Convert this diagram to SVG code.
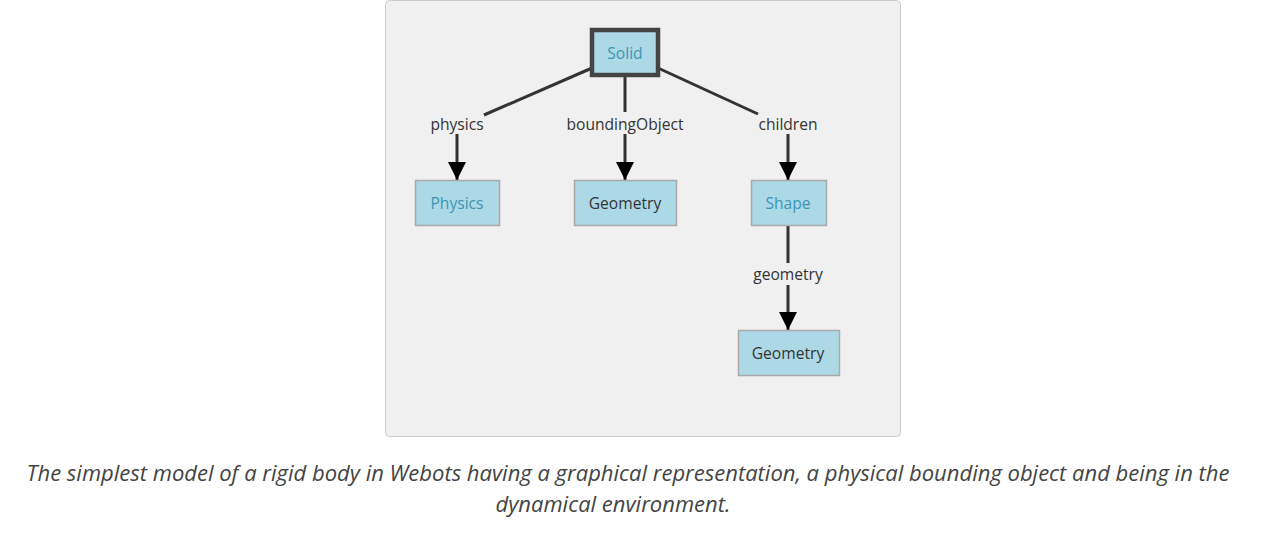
<svg xmlns="http://www.w3.org/2000/svg" width="1284" height="536" viewBox="0 0 1284 536">
<style>
.node rect{fill:#add8e6;stroke:#a9a9a9;stroke-width:1.5}
.nt{font-family:"Open Sans","Liberation Sans",sans-serif;font-size:15.6px;text-anchor:middle;fill:#333}
.link{fill:#3a97b3}
.lbl{font-family:"Open Sans","Liberation Sans",sans-serif;font-size:15.6px;text-anchor:middle;fill:#333}
.edge{stroke:#333;stroke-width:3;fill:none}
.cap{font-family:"Open Sans","Liberation Sans",sans-serif;font-size:22px;font-style:italic;text-anchor:middle;fill:#444}
</style>
<defs>
<marker id="arr" markerWidth="6" markerHeight="6" refX="6" refY="3" orient="auto" markerUnits="strokeWidth">
<path d="M0,0 L6,3 L0,6 z" fill="#000"/>
</marker>
</defs>
<rect x="385.5" y="0.5" width="515" height="436" rx="4" fill="#f0f0f0" stroke="#cccccc"/>
<g id="connectors">
<path class="edge" d="M592,68 L484,115"/>
<path class="edge" d="M457,134 L457,180" marker-end="url(#arr)"/>
<path class="edge" d="M625,77 L625,112"/>
<path class="edge" d="M625,134 L625,180" marker-end="url(#arr)"/>
<path class="edge" d="M658,68 L758,114"/>
<path class="edge" d="M788,134 L788,180" marker-end="url(#arr)"/>
<path class="edge" d="M788,226 L788,263"/>
<path class="edge" d="M788,285 L788,330" marker-end="url(#arr)"/>
<text class="lbl" x="457" y="130">physics</text>
<text class="lbl" x="625" y="130">boundingObject</text>
<text class="lbl" x="788" y="130">children</text>
<text class="lbl" x="788" y="280">geometry</text>
</g>
<g id="solid" class="node">
<rect x="592" y="30" width="66" height="45" style="stroke:#444;stroke-width:4.5"/>
<text class="nt link" x="625" y="59">Solid</text>
</g>
<g id="physics" class="node">
<rect x="415.5" y="180.5" width="84" height="45"/>
<text class="nt link" x="457" y="209">Physics</text>
</g>
<g id="geometry1" class="node">
<rect x="574.5" y="180.5" width="102" height="45"/>
<text class="nt" x="625" y="209">Geometry</text>
</g>
<g id="shape" class="node">
<rect x="751.5" y="180.5" width="75" height="45"/>
<text class="nt link" x="788" y="209">Shape</text>
</g>
<g id="geometry2" class="node">
<rect x="738.5" y="330.5" width="101" height="45"/>
<text class="nt" x="788" y="359">Geometry</text>
</g>
<text class="cap" x="628" y="481">The simplest model of a rigid body in Webots having a graphical representation, a physical bounding object and being in the</text>
<text class="cap" x="613" y="512">dynamical environment.</text>
</svg>
